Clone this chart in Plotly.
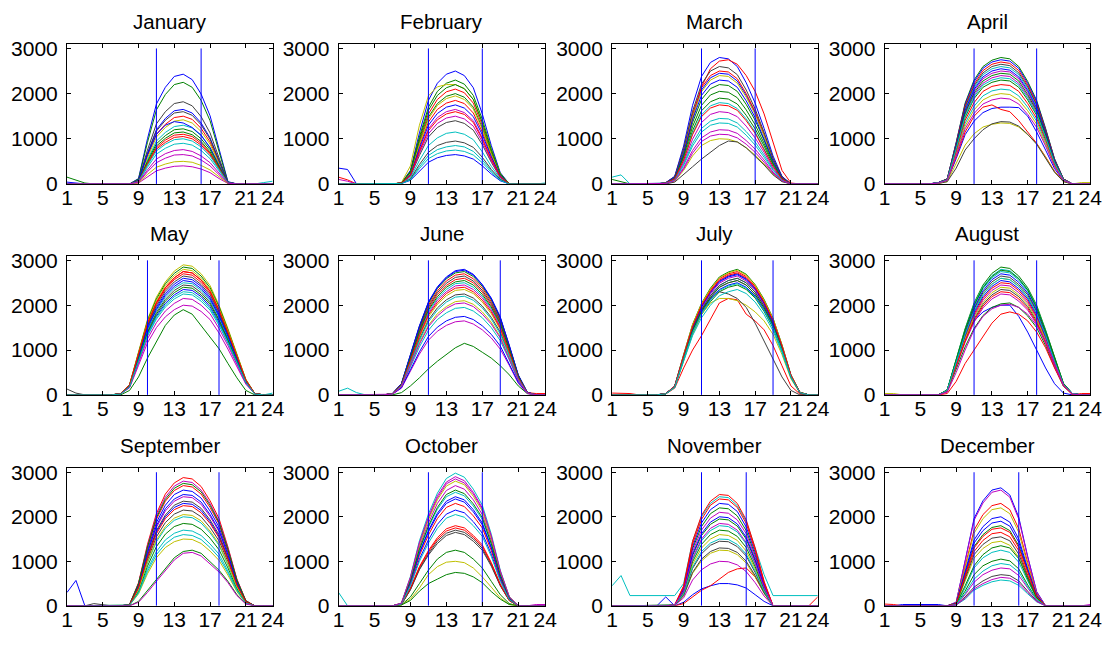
import plotly.graph_objects as go

hours = list(range(1, 25))
month_names = ["January", "February", "March", "April", "May", "June",
               "July", "August", "September", "October", "November", "December"]
x_tick_values = [1, 5, 9, 13, 17, 21, 24]
y_tick_values = [0, 1000, 2000, 3000]
window_start = [11, 11, 11, 11, 10, 11, 11, 11, 11, 11, 11, 11]
window_end = [16, 17, 17, 18, 18, 19, 19, 18, 18, 17, 16, 16]
window_top = 3000

jan = [
    [40,20,0,0,0,0,0,0,120,1000,1770,2140,2380,2430,2310,1990,1510,750,50,0,0,0,0,0],
    [0,0,0,0,0,0,0,0,110,920,1640,1980,2200,2250,2140,1850,1400,700,40,0,0,0,0,0],
    [0,0,0,0,0,0,0,0,75,620,1100,1320,1470,1500,1430,1230,930,470,30,0,0,0,0,0],
    [0,0,0,0,0,0,0,0,65,530,950,1140,1270,1300,1240,1070,810,400,20,0,0,0,30,60],
    [0,0,0,0,0,0,0,0,20,160,290,350,390,400,380,330,250,120,10,0,0,0,0,0],
    [0,0,0,0,0,0,0,0,70,580,1040,1250,1390,1420,1350,1160,880,440,30,0,0,0,0,0],
    [0,0,0,0,0,0,0,0,90,750,1330,1600,1780,1820,1730,1490,1130,560,30,0,0,0,0,0],
    [0,0,0,0,0,0,0,0,80,680,1200,1450,1620,1650,1570,1350,1020,510,30,0,0,0,0,0],
    [150,80,20,0,0,0,0,0,60,470,840,1010,1130,1150,1090,940,710,360,20,0,0,0,0,0],
    [0,0,0,0,0,0,0,0,50,430,770,920,1030,1050,1000,860,650,330,20,0,0,0,0,0],
    [0,0,0,0,0,0,0,0,45,370,660,790,880,900,860,740,560,280,20,0,0,0,0,0],
    [0,0,0,0,0,0,0,0,30,270,470,570,640,650,620,530,400,200,10,0,0,0,0,0],
    [0,0,0,0,0,0,0,0,25,210,370,440,490,500,480,410,310,150,10,0,0,0,0,0],
    [0,0,0,0,0,0,0,0,80,660,1170,1410,1570,1600,1520,1310,990,500,30,0,0,0,0,0],
    [0,0,0,0,0,0,0,0,70,650,1100,1300,1380,1350,1250,1080,800,400,30,0,0,0,0,0],
    [0,0,0,0,0,0,0,0,60,500,890,1070,1200,1220,1160,1000,760,380,20,0,0,0,0,0],
    [0,0,0,0,0,0,0,0,55,450,800,970,1080,1100,1050,900,680,340,20,0,0,0,0,0],
    [0,0,0,0,0,0,0,0,50,410,730,880,980,1000,950,820,620,310,20,0,0,0,0,0],
    [0,0,0,0,0,0,0,0,40,310,550,670,740,760,720,620,470,240,15,0,0,0,0,0],
]

feb = [
    [350,320,0,0,0,0,0,20,300,1130,1850,2230,2430,2500,2400,2130,1550,850,250,0,0,0,0,0],
    [0,0,0,0,0,0,0,20,280,1040,1700,2050,2230,2300,2210,1960,1430,780,230,0,0,0,0,0],
    [150,90,0,0,0,0,0,20,250,950,1550,1870,2040,2100,2020,1790,1300,710,210,0,0,0,0,0],
    [0,0,0,0,0,0,0,10,100,380,630,760,820,850,820,720,530,290,90,0,0,0,0,20],
    [100,60,0,0,0,0,0,20,200,740,1220,1470,1600,1650,1580,1400,1020,560,170,0,0,0,0,0],
    [0,0,0,0,0,0,0,30,400,1300,1950,2150,2200,2200,2110,1870,1360,750,220,0,0,0,0,0],
    [0,0,0,0,0,0,0,20,170,630,1040,1250,1360,1400,1340,1190,870,480,140,0,0,0,0,0],
    [0,0,0,0,0,0,0,10,80,290,480,580,630,650,620,550,400,220,70,0,0,0,0,0],
    [0,0,0,0,0,0,0,20,240,900,1480,1780,1940,2000,1920,1700,1240,680,200,0,0,0,0,0],
    [0,0,0,0,0,0,0,20,220,830,1370,1650,1790,1850,1780,1570,1150,630,190,0,0,0,0,0],
    [0,0,0,0,0,0,0,10,140,520,850,1020,1120,1150,1100,980,710,390,120,0,0,0,0,0],
    [0,0,0,0,0,0,0,20,180,680,1110,1340,1460,1500,1440,1280,930,510,150,0,0,0,0,0],
    [0,0,0,0,0,0,0,20,230,880,1440,1740,1890,1950,1870,1660,1210,660,200,0,0,0,0,0],
    [0,0,0,0,0,0,0,10,110,430,700,850,920,950,910,810,590,320,100,0,0,0,0,0],
    [0,0,0,0,0,0,0,20,210,790,1300,1560,1700,1750,1680,1490,1090,600,180,0,0,0,0,0],
    [0,0,0,0,0,0,0,20,260,990,1630,1960,2130,2200,2110,1870,1360,750,220,0,0,0,0,0],
    [0,0,0,0,0,0,0,20,190,720,1180,1420,1550,1600,1540,1360,990,540,160,0,0,0,0,0],
    [0,0,0,0,0,0,0,10,90,340,560,670,730,750,720,640,470,260,80,0,0,0,0,0],
]

mar = [
    [0,0,0,0,0,0,30,170,840,1740,2380,2690,2800,2770,2600,2240,1790,1230,620,170,0,0,0,0],
    [100,50,0,0,0,0,20,130,660,1360,1870,2110,2200,2180,2050,1760,1410,970,480,130,0,0,0,0],
    [0,0,0,0,0,0,0,100,600,1450,2150,2550,2720,2750,2650,2400,2050,1550,900,300,20,0,0,0],
    [150,200,0,0,0,0,15,90,440,900,1230,1390,1450,1440,1350,1160,930,640,320,90,0,0,0,0],
    [0,0,0,0,0,0,10,70,360,740,1020,1150,1200,1190,1120,960,770,530,260,70,0,0,0,0],
    [0,0,0,0,0,0,10,60,300,620,850,960,1000,990,930,800,640,440,220,60,0,0,0,0],
    [0,0,0,0,0,0,0,40,200,380,550,700,850,950,930,800,620,420,200,50,0,0,0,0],
    [0,0,0,0,0,0,25,150,740,1520,2080,2350,2450,2430,2280,1960,1570,1080,540,150,0,0,0,0],
    [0,0,0,0,0,0,20,110,570,1180,1620,1820,1900,1880,1770,1520,1220,840,420,110,0,0,0,0],
    [0,0,0,0,0,0,25,150,750,1550,2130,2400,2500,2480,2330,2000,1600,1100,550,150,0,0,0,0],
    [0,0,0,0,0,0,20,110,540,1120,1530,1730,1800,1780,1670,1440,1150,790,400,110,0,0,0,0],
    [0,0,0,0,0,0,15,100,480,990,1360,1540,1600,1580,1490,1280,1020,700,350,100,0,0,0,0],
    [0,0,0,0,0,0,25,140,720,1490,2040,2300,2400,2380,2230,1920,1540,1060,530,140,0,0,0,0],
    [0,0,0,0,0,0,25,160,780,1610,2210,2500,2600,2570,2420,2080,1660,1140,570,160,0,0,0,0],
    [0,0,0,0,0,0,25,140,690,1430,1960,2210,2300,2280,2140,1840,1470,1010,510,140,0,0,0,0],
    [0,0,0,0,0,0,20,120,620,1270,1740,1970,2050,2030,1910,1640,1310,900,450,120,0,0,0,0],
    [0,0,0,0,0,0,20,110,530,1090,1490,1680,1750,1730,1630,1400,1120,770,390,110,0,0,0,0],
    [0,0,0,0,0,0,15,80,410,840,1150,1300,1350,1340,1260,1080,860,590,300,80,0,0,0,0],
    [0,0,0,0,0,0,10,70,330,680,940,1060,1100,1090,1020,880,700,480,240,70,0,0,0,0],
]

apr = [
    [0,0,0,0,0,0,20,70,560,1090,1390,1580,1670,1700,1700,1690,1500,1150,750,340,70,0,0,0],
    [0,0,0,0,0,0,30,110,920,1790,2300,2600,2740,2800,2770,2600,2270,1850,1230,560,110,0,0,0],
    [0,0,0,0,0,0,20,80,600,1150,1500,1700,1750,1650,1600,1400,1150,900,600,280,60,0,0,0],
    [0,0,0,0,0,0,30,100,860,1660,2130,2420,2550,2600,2570,2420,2110,1720,1140,520,100,0,0,0],
    [0,0,0,0,0,0,25,100,790,1540,1970,2230,2350,2400,2380,2230,1940,1580,1060,480,100,0,0,0],
    [0,0,0,0,0,0,10,50,450,860,1110,1260,1320,1350,1340,1260,1090,890,590,270,50,0,30,30],
    [0,0,0,0,0,0,10,50,350,750,1000,1200,1330,1380,1370,1280,1100,880,580,260,50,0,0,0],
    [0,0,0,0,0,0,30,110,910,1760,2260,2560,2700,2750,2720,2560,2230,1820,1210,550,110,0,0,0],
    [0,0,0,0,0,0,25,90,760,1470,1890,2140,2250,2300,2280,2140,1860,1520,1010,460,90,0,0,0],
    [0,0,0,0,0,0,30,110,890,1730,2210,2510,2650,2700,2670,2510,2190,1780,1190,540,110,0,0,0],
    [0,0,0,0,0,0,20,80,690,1340,1720,1950,2060,2100,2080,1950,1700,1390,920,420,80,0,0,0],
    [0,0,0,0,0,0,25,100,830,1600,2050,2330,2450,2500,2480,2330,2030,1650,1100,500,100,0,0,0],
    [0,0,0,0,0,0,20,80,660,1280,1640,1860,1960,2000,1980,1860,1620,1320,880,400,80,0,0,0],
    [0,0,0,0,0,0,30,110,870,1700,2170,2460,2600,2650,2620,2460,2150,1750,1170,530,110,0,0,0],
    [0,0,0,0,0,0,30,100,840,1630,2090,2370,2500,2550,2520,2370,2070,1680,1120,510,100,0,0,0],
    [0,0,0,0,0,0,25,100,810,1570,2010,2280,2400,2450,2430,2280,1980,1620,1080,490,100,0,0,0],
    [0,0,0,0,0,0,20,90,730,1410,1800,2050,2160,2200,2180,2050,1780,1450,970,440,90,0,0,0],
    [0,0,0,0,0,0,25,90,780,1500,1930,2190,2300,2350,2330,2190,1900,1550,1030,470,90,0,0,0],
    [0,0,0,0,0,0,20,80,630,1220,1560,1770,1860,1900,1880,1770,1540,1250,840,380,80,0,0,0],
]

may = [
    [0,0,0,0,0,0,30,210,860,1510,1950,2260,2470,2600,2570,2420,2180,1790,1330,810,310,30,0,0],
    [0,0,0,0,0,0,0,100,400,820,1200,1550,1780,1900,1800,1540,1300,1030,700,380,100,0,0,0],
    [0,0,0,0,0,0,30,220,890,1570,2030,2350,2570,2700,2670,2510,2270,1860,1380,840,320,30,0,0],
    [0,0,0,0,0,0,20,180,740,1310,1690,1960,2140,2250,2230,2090,1890,1550,1150,700,270,20,0,40],
    [0,0,0,0,0,0,20,170,710,1250,1610,1870,2040,2150,2130,2000,1810,1480,1100,670,260,20,0,0],
    [0,0,0,0,0,0,30,230,960,1680,2180,2520,2760,2900,2870,2700,2440,2000,1480,900,350,30,0,0],
    [130,40,0,0,0,0,25,200,810,1420,1840,2130,2330,2450,2430,2280,2060,1690,1250,760,290,25,0,0],
    [0,0,0,0,0,0,25,190,780,1360,1760,2040,2230,2350,2330,2190,1970,1620,1200,730,280,25,0,0],
    [0,0,0,0,0,0,30,230,940,1650,2140,2480,2710,2850,2820,2650,2390,1970,1450,880,340,30,0,0],
    [0,0,0,0,0,0,30,220,910,1600,2060,2390,2610,2750,2720,2560,2310,1900,1400,850,330,30,0,0],
    [0,0,0,0,0,0,25,200,830,1450,1880,2180,2380,2500,2480,2330,2100,1730,1280,780,300,25,0,0],
    [0,0,0,0,0,0,20,160,660,1160,1500,1740,1900,2000,1980,1860,1680,1380,1020,620,240,20,0,0],
    [0,0,0,0,0,0,30,220,920,1620,2100,2440,2660,2800,2770,2600,2350,1930,1430,870,340,30,0,0],
    [0,0,0,0,0,0,30,210,870,1540,1990,2310,2520,2650,2620,2460,2230,1830,1350,820,320,30,0,0],
    [0,0,0,0,0,0,25,200,840,1480,1910,2220,2420,2550,2520,2370,2140,1760,1300,790,310,25,0,0],
    [0,0,0,0,0,0,25,190,790,1390,1800,2090,2280,2400,2380,2230,2020,1660,1220,740,290,25,0,0],
    [0,0,0,0,0,0,30,220,910,1600,2060,2390,2610,2750,2720,2560,2310,1900,1400,850,330,30,0,0],
    [0,0,0,0,0,0,20,180,760,1330,1730,2000,2190,2300,2280,2140,1930,1590,1170,710,280,20,0,0],
]

jun = [
    [0,0,0,0,0,0,30,250,900,1540,2070,2410,2630,2770,2800,2690,2460,2160,1740,1120,450,60,0,0],
    [0,0,0,0,0,0,0,50,200,380,580,750,900,1050,1150,1080,950,820,650,450,200,30,0,0],
    [0,0,0,0,0,0,30,240,860,1490,2000,2320,2540,2670,2700,2590,2380,2080,1670,1080,430,50,30,30],
    [80,150,50,0,0,0,20,180,620,1070,1440,1680,1830,1930,1950,1870,1720,1500,1210,780,310,40,0,0],
    [0,0,0,0,0,0,15,150,530,910,1220,1420,1550,1630,1650,1580,1450,1270,1020,660,260,30,0,0],
    [0,0,0,0,0,0,25,210,750,1290,1740,2020,2210,2330,2350,2260,2070,1810,1460,940,380,50,0,0],
    [0,0,0,0,0,0,20,200,720,1240,1670,1940,2120,2230,2250,2160,1980,1730,1400,900,360,40,0,0],
    [0,0,0,0,0,0,20,160,560,960,1300,1510,1650,1730,1750,1680,1540,1350,1090,700,280,40,0,0],
    [0,0,0,0,0,0,30,250,880,1510,2040,2370,2590,2720,2750,2640,2420,2120,1710,1100,440,60,0,0],
    [0,0,0,0,0,0,30,230,830,1430,1920,2240,2440,2570,2600,2500,2290,2000,1610,1040,420,50,0,0],
    [0,0,0,0,0,0,25,230,800,1380,1850,2150,2350,2480,2500,2400,2200,1930,1550,1000,400,50,0,0],
    [0,0,0,0,0,0,25,220,780,1350,1810,2110,2300,2430,2450,2350,2160,1890,1520,980,390,50,0,0],
    [0,0,0,0,0,0,20,190,670,1160,1550,1810,1970,2080,2100,2020,1850,1620,1300,840,340,40,0,0],
    [0,0,0,0,0,0,30,240,850,1460,1960,2280,2490,2620,2650,2540,2330,2040,1640,1060,420,50,0,0],
    [0,0,0,0,0,0,30,250,890,1530,2060,2390,2610,2750,2780,2670,2450,2140,1720,1110,440,60,0,0],
    [0,0,0,0,0,0,25,230,820,1400,1890,2190,2400,2520,2550,2450,2240,1960,1580,1020,410,50,0,0],
    [0,0,0,0,0,0,25,220,770,1320,1780,2060,2260,2380,2400,2300,2110,1850,1490,960,380,50,0,0],
    [0,0,0,0,0,0,20,200,700,1210,1630,1890,2070,2180,2200,2110,1940,1690,1360,880,350,40,0,0],
    [0,0,0,0,0,0,20,180,660,1130,1520,1760,1930,2030,2050,1970,1800,1580,1270,820,330,40,0,0],
]

jul = [
    [0,0,0,0,0,0,30,190,860,1510,1970,2300,2540,2650,2700,2590,2380,2050,1650,1080,430,50,0,0],
    [0,0,0,0,0,0,25,170,780,1370,1790,2080,2300,2400,2450,2350,2160,1860,1490,980,390,50,0,0],
    [40,40,30,0,0,0,20,150,600,1000,1320,1700,2050,2150,2120,1800,1650,1450,1100,650,200,20,0,0],
    [0,0,0,0,0,0,30,180,830,1460,1900,2210,2440,2550,2600,2500,2290,1980,1590,1040,420,50,0,0],
    [0,0,0,0,0,0,25,180,820,1430,1860,2170,2400,2500,2550,2450,2240,1940,1560,1020,410,50,0,0],
    [0,0,0,0,0,0,25,170,760,1350,1800,2050,2150,2150,2100,2000,1850,1650,1350,900,360,40,0,0],
    [0,0,0,0,0,0,20,180,800,1450,1900,2150,2300,2250,2150,1950,1600,1200,800,400,100,0,0,0],
    [0,0,0,0,0,0,25,180,800,1400,1830,2130,2350,2450,2500,2400,2200,1900,1530,1000,400,50,0,0],
    [0,0,0,0,0,0,30,200,900,1570,2040,2380,2630,2740,2800,2690,2460,2130,1710,1120,450,60,0,0],
    [0,0,0,0,0,0,30,190,880,1540,2010,2340,2590,2700,2750,2640,2420,2090,1680,1100,440,60,0,0],
    [0,0,0,0,0,0,25,160,750,1320,1720,2000,2210,2300,2350,2260,2070,1790,1430,940,380,50,0,0],
    [0,0,0,0,0,0,30,190,850,1480,1930,2250,2490,2600,2650,2540,2330,2010,1620,1060,420,50,0,0],
    [0,0,0,0,0,0,30,190,890,1560,2030,2360,2610,2720,2780,2670,2450,2110,1700,1110,440,60,0,0],
    [0,0,0,0,0,0,30,180,830,1460,1900,2210,2440,2550,2600,2500,2290,1980,1590,1040,420,50,0,0],
    [0,0,0,0,0,0,30,190,860,1500,1960,2280,2520,2630,2680,2570,2360,2040,1630,1070,430,50,0,0],
    [0,0,0,0,0,0,25,180,820,1430,1860,2170,2400,2500,2550,2450,2240,1940,1560,1020,410,50,0,0],
    [0,0,0,0,0,0,30,190,870,1520,1990,2310,2560,2670,2720,2610,2390,2070,1660,1090,440,50,0,0],
    [0,0,0,0,0,0,25,170,790,1390,1810,2110,2330,2430,2480,2380,2180,1880,1510,990,400,50,0,0],
]

aug = [
    [0,0,0,0,0,0,0,80,700,1300,1650,1850,1950,2000,2000,1750,1400,1000,600,250,40,0,0,0],
    [0,0,0,0,0,0,0,80,580,1070,1480,1770,1950,2030,2050,1950,1760,1500,1100,620,190,20,0,0],
    [0,0,0,0,0,0,0,30,300,700,1000,1300,1600,1800,1850,1800,1650,1400,1050,600,200,0,30,30],
    [0,0,0,0,0,0,0,110,770,1430,1980,2370,2610,2750,2720,2560,2310,1930,1400,800,250,30,0,0],
    [0,0,0,0,0,0,0,100,690,1270,1760,2110,2330,2450,2430,2280,2060,1720,1250,710,220,20,0,0],
    [30,30,0,0,0,0,0,100,730,1350,1870,2240,2470,2600,2570,2420,2180,1820,1330,750,230,30,0,0],
    [0,0,0,0,0,0,0,90,660,1220,1690,2020,2230,2350,2330,2190,1970,1650,1200,680,210,20,0,0],
    [0,0,0,0,0,0,0,110,760,1400,1940,2320,2570,2700,2670,2510,2270,1890,1380,780,240,30,0,0],
    [0,0,0,0,0,0,0,110,800,1480,2050,2450,2710,2850,2820,2650,2390,2000,1450,830,260,30,0,0],
    [0,0,0,0,0,0,0,100,700,1300,1800,2150,2380,2500,2480,2330,2100,1750,1280,730,230,30,0,0],
    [0,0,0,0,0,0,0,110,780,1460,2020,2410,2660,2800,2770,2600,2350,1960,1430,810,250,30,0,0],
    [0,0,0,0,0,0,0,90,630,1170,1620,1940,2140,2250,2230,2090,1890,1580,1150,650,200,20,0,0],
    [0,0,0,0,0,0,0,100,670,1250,1730,2060,2280,2400,2380,2230,2020,1680,1220,700,220,20,0,0],
    [0,0,0,0,0,0,0,110,740,1380,1910,2280,2520,2650,2620,2460,2230,1860,1350,770,240,30,0,0],
    [0,0,0,0,0,0,0,100,710,1330,1840,2190,2420,2550,2520,2370,2140,1790,1300,740,230,30,0,0],
    [0,0,0,0,0,0,0,110,780,1450,2000,2390,2640,2780,2750,2590,2340,1950,1420,810,250,30,0,0],
    [0,0,0,0,0,0,0,90,640,1200,1660,1980,2190,2300,2280,2140,1930,1610,1170,670,210,20,0,0],
    [0,0,0,0,0,0,0,100,730,1350,1870,2240,2470,2600,2570,2420,2180,1820,1330,750,230,30,0,0],
    [0,0,0,0,0,0,0,60,500,1000,1450,1750,1920,2000,2020,1950,1800,1550,1200,700,220,20,0,0],
]

sep = [
    [300,570,0,0,0,0,0,20,410,1100,1660,2000,2210,2300,2280,2140,1890,1560,1060,480,90,0,0,0],
    [0,0,0,0,0,0,0,0,100,350,600,850,1080,1220,1250,1180,1000,800,550,250,50,0,0,0],
    [0,0,0,0,0,0,0,30,520,1380,2070,2510,2760,2880,2850,2680,2360,1960,1320,600,120,0,0,0],
    [0,0,0,0,0,0,0,15,310,820,1220,1480,1630,1700,1680,1580,1390,1160,780,360,70,0,0,0],
    [0,0,0,0,0,0,0,20,440,1180,1760,2130,2350,2450,2430,2280,2010,1670,1130,510,100,0,0,0],
    [0,0,0,0,0,0,0,15,270,720,1080,1310,1440,1500,1490,1400,1230,1020,690,320,60,0,0,0],
    [0,0,0,50,30,0,0,20,390,1030,1550,1870,2060,2150,2130,2000,1760,1460,990,450,90,0,0,0],
    [0,0,0,0,0,0,0,30,470,1250,1870,2260,2500,2600,2570,2420,2130,1770,1200,550,100,0,0,0],
    [0,0,0,0,0,0,0,20,330,890,1330,1610,1780,1850,1830,1720,1520,1260,850,390,70,0,0,0],
    [0,0,0,0,0,0,0,30,490,1300,1940,2350,2590,2700,2670,2510,2210,1840,1240,570,110,0,0,0],
    [0,0,0,0,0,0,0,20,360,960,1440,1740,1920,2000,1980,1860,1640,1360,920,420,80,0,0,0],
    [0,0,0,0,0,0,0,30,500,1340,2020,2440,2690,2800,2770,2600,2300,1900,1290,590,110,0,0,0],
    [0,0,0,0,0,0,0,20,370,980,1480,1780,1970,2050,2030,1910,1680,1390,940,430,80,0,0,0],
    [0,0,0,0,0,0,0,20,420,1130,1690,2040,2260,2350,2330,2190,1930,1600,1080,490,90,0,0,0],
    [0,0,0,0,0,0,0,25,450,1200,1800,2180,2400,2500,2480,2330,2050,1700,1150,530,100,0,0,0],
    [0,0,0,0,0,0,0,30,500,1320,1980,2390,2640,2750,2720,2560,2260,1870,1270,580,110,0,0,0],
    [0,0,0,0,0,0,0,20,410,1080,1620,1960,2160,2250,2230,2090,1850,1530,1040,470,90,0,0,0],
    [0,0,0,0,0,0,0,15,290,770,1150,1390,1540,1600,1580,1490,1310,1090,740,340,60,0,0,0],
    [0,0,0,0,0,0,0,0,80,300,550,800,1030,1180,1200,1120,950,760,520,230,40,0,0,0],
]

oct_ = [
    [0,0,0,0,0,0,0,50,540,1200,1690,2080,2350,2450,2380,2160,1860,1320,660,170,0,0,0,0],
    [0,0,0,0,0,0,0,20,200,500,800,1050,1200,1250,1200,1050,850,550,250,50,0,0,0,0],
    [0,0,0,0,0,0,0,40,400,880,1240,1530,1730,1800,1750,1580,1370,970,490,130,0,0,0,0],
    [300,0,0,0,0,0,0,60,660,1460,2060,2530,2860,2980,2890,2620,2260,1610,800,210,0,0,0,0],
    [0,0,0,0,0,0,0,60,630,1400,1970,2420,2740,2850,2760,2510,2170,1540,770,200,0,0,30,30],
    [0,0,0,0,0,0,0,20,150,400,700,880,980,1000,970,850,650,420,180,30,0,0,0,0],
    [0,0,0,0,0,0,0,30,360,810,1140,1400,1580,1650,1600,1450,1250,890,450,120,0,0,0,0],
    [0,0,0,0,0,0,0,40,470,1050,1480,1830,2060,2150,2090,1890,1630,1160,580,150,0,0,0,0],
    [0,0,0,0,0,0,0,20,120,330,500,600,700,750,730,650,520,320,150,30,0,0,0,0],
    [0,0,0,0,0,0,0,50,510,1130,1590,1960,2210,2300,2230,2020,1750,1240,620,160,0,0,0,0],
    [0,0,0,0,0,0,0,50,560,1250,1760,2170,2450,2550,2470,2240,1940,1380,690,180,0,0,0,0],
    [0,0,0,0,0,0,0,50,590,1320,1860,2300,2590,2700,2620,2380,2050,1460,730,190,0,0,0,0],
    [0,0,0,0,0,0,0,60,620,1370,1930,2380,2690,2800,2720,2460,2130,1510,760,200,0,0,0,0],
    [0,0,0,0,0,0,0,30,370,830,1170,1450,1630,1700,1650,1500,1290,920,460,120,0,0,0,0],
    [0,0,0,0,0,0,0,50,530,1180,1660,2040,2300,2400,2330,2110,1820,1300,650,170,0,0,0,0],
    [0,0,0,0,0,0,0,50,570,1270,1790,2210,2500,2600,2520,2290,1980,1400,700,180,0,0,0,0],
    [0,0,0,0,0,0,0,40,390,860,1210,1490,1680,1750,1700,1540,1330,950,470,120,0,0,0,0],
    [0,0,0,0,0,0,0,40,450,1000,1410,1740,1970,2050,1990,1800,1560,1110,550,140,0,0,0,0],
    [0,0,0,0,0,0,0,60,640,1420,2000,2470,2780,2900,2810,2550,2200,1570,780,200,0,0,0,0],
]

nov = [
    [0,0,0,0,0,0,200,0,80,250,380,450,500,500,470,400,250,100,0,0,0,0,0,0],
    [0,0,0,0,0,0,0,20,400,1280,1780,2070,2200,2180,2020,1690,1140,480,0,0,0,0,0,0],
    [0,0,0,0,0,0,0,0,50,200,350,450,600,750,830,850,650,300,0,0,0,0,0,200],
    [450,680,230,230,230,230,230,230,500,1450,2000,2300,2450,2430,2250,1900,1300,700,230,230,230,230,230,230],
    [0,0,0,0,0,0,0,10,180,580,810,940,1000,990,920,770,520,220,0,0,0,0,0,0],
    [0,0,0,0,0,0,0,10,230,730,1010,1180,1250,1240,1150,960,650,280,0,0,0,0,0,0],
    [0,0,0,0,0,0,0,15,260,840,1170,1360,1450,1440,1330,1120,750,320,0,0,0,0,0,0],
    [0,0,0,0,0,0,0,20,410,1330,1860,2160,2300,2280,2120,1770,1200,510,0,0,0,0,0,0],
    [0,0,0,0,0,0,0,20,350,1130,1580,1830,1950,1930,1790,1500,1010,430,0,0,0,0,0,0],
    [0,0,0,0,0,0,0,20,450,1450,2030,2350,2500,2480,2300,1930,1300,550,0,0,0,0,0,0],
    [0,0,0,0,0,0,0,20,320,1040,1460,1690,1800,1780,1660,1390,940,400,0,0,0,0,0,0],
    [0,0,0,0,0,0,0,20,380,1220,1700,1970,2100,2080,1930,1620,1090,460,0,0,0,0,0,0],
    [0,0,0,0,0,0,0,15,290,930,1300,1500,1600,1580,1470,1230,830,350,0,0,0,0,0,0],
    [0,0,0,0,0,0,0,10,230,750,1050,1220,1300,1290,1200,1000,680,290,0,0,0,0,0,0],
    [0,0,0,0,0,0,0,20,360,1160,1620,1880,2000,1980,1840,1540,1040,440,0,0,0,0,0,0],
    [0,0,0,0,0,0,0,15,310,990,1380,1600,1700,1680,1560,1310,880,370,0,0,0,0,0,0],
    [0,0,0,0,0,0,0,20,430,1390,1940,2260,2400,2380,2210,1850,1250,530,0,0,0,0,0,0],
    [0,0,0,0,0,0,0,15,270,870,1220,1410,1500,1490,1380,1160,780,330,0,0,0,0,0,0],
    [0,0,0,0,0,0,0,20,330,1070,1500,1740,1850,1830,1700,1420,960,410,0,0,0,0,0,0],
]

dec = [
    [0,0,30,30,30,30,30,0,80,1010,1960,2360,2600,2650,2490,1990,1110,320,0,0,0,0,0,0],
    [0,0,0,0,0,0,0,0,50,680,1330,1600,1760,1800,1690,1350,760,220,0,0,0,0,0,0],
    [40,30,0,0,0,0,0,0,70,870,1700,2050,2250,2300,2160,1730,970,280,0,0,0,0,0,0],
    [0,0,0,0,0,0,0,0,20,150,350,460,540,580,560,460,270,90,0,0,0,0,0,0],
    [0,0,0,0,0,0,0,0,80,990,1920,2310,2550,2600,2440,1950,1090,310,0,0,0,0,0,0],
    [0,0,0,0,0,0,0,0,70,840,1630,1960,2160,2200,2070,1650,920,260,0,0,0,0,0,0],
    [0,0,0,0,0,0,0,0,20,200,420,560,660,700,680,560,330,110,0,0,0,0,0,0],
    [0,0,0,0,0,0,0,0,60,760,1480,1780,1960,2000,1880,1500,840,240,0,0,0,0,0,0],
    [0,0,0,0,0,0,0,0,30,330,700,900,1000,1050,1010,830,470,150,0,0,0,0,0,0],
    [0,0,0,0,0,0,0,0,50,630,1220,1470,1620,1650,1550,1240,690,200,0,0,0,0,0,0],
    [0,0,0,0,0,0,0,0,30,400,850,1080,1200,1250,1200,980,560,170,0,0,0,0,0,0],
    [0,0,0,0,0,0,0,0,20,250,530,700,800,850,830,680,400,130,0,0,0,0,0,30],
    [0,0,0,0,0,0,0,0,40,550,1070,1290,1420,1450,1360,1090,610,170,0,0,0,0,0,0],
    [0,0,0,0,0,0,0,0,50,590,1150,1380,1520,1550,1460,1160,650,190,0,0,0,0,0,0],
    [0,0,0,0,0,0,0,0,60,720,1410,1690,1860,1900,1790,1430,800,230,0,0,0,0,0,0],
    [0,0,0,0,0,0,0,0,40,450,900,1150,1300,1350,1300,1060,600,180,0,0,0,0,0,0],
    [0,0,0,0,0,0,0,0,50,670,1300,1560,1720,1750,1650,1310,740,210,0,0,0,0,0,0],
    [0,0,0,0,0,0,0,0,30,280,600,780,900,950,920,760,430,140,0,0,0,0,0,0],
    [0,0,0,0,0,0,0,0,20,170,380,500,590,640,620,510,300,100,0,0,0,0,0,0],
]

months = [jan, feb, mar, apr, may, jun, jul, aug, sep, oct_, nov, dec]

# ---------------- styling ----------------
line_colors = ["#0000ff", "#008000", "#ff0000", "#00bfbf", "#bf00bf", "#bfbf00", "#404040"]
FONT = "Liberation Sans, Arial, Helvetica, sans-serif"
W, H = 1120, 646
col_px = [(62, 271), (338, 548), (616, 825), (893, 1102)]
row_px = [(38, 182), (256, 399), (474, 616)]

fig = go.Figure()
layout = {}
annotations = []
for m in range(12):
    r, c = divmod(m, 4)
    n = m + 1
    xa = "x" if n == 1 else f"x{n}"
    ya = "y" if n == 1 else f"y{n}"
    xkey = "xaxis" if n == 1 else f"xaxis{n}"
    ykey = "yaxis" if n == 1 else f"yaxis{n}"
    for k, curve in enumerate(months[m]):
        assert len(curve) == 24, (m, k, len(curve))
        fig.add_trace(go.Scatter(x=hours, y=curve, mode="lines",
                                 line=dict(color=line_colors[k % 7], width=1),
                                 xaxis=xa, yaxis=ya, showlegend=False, hoverinfo="skip"))
    for h in (window_start[m], window_end[m]):
        fig.add_trace(go.Scatter(x=[h, h], y=[0, window_top], mode="lines",
                                 line=dict(color="#0000ff", width=1),
                                 xaxis=xa, yaxis=ya, showlegend=False, hoverinfo="skip"))
    x0, x1 = col_px[c]
    y0, y1 = row_px[r]
    common = dict(showline=True, linecolor="black", linewidth=1, mirror="ticks",
                  ticks="inside", ticklen=4, tickcolor="black", showgrid=False,
                  zeroline=False, tickfont=dict(family=FONT, size=21, color="black"))
    layout[xkey] = dict(domain=[x0 / W, x1 / W], range=[1, 24], anchor=ya,
                        tickmode="array", tickvals=x_tick_values,
                        ticklabelstandoff=-5, **common)
    layout[ykey] = dict(domain=[1 - y1 / H, 1 - y0 / H], range=[0, 3100], anchor=xa,
                        tickmode="array", tickvals=y_tick_values,
                        ticklabelstandoff=4, **common)
    annotations.append(dict(text=month_names[m], xref="paper", yref="paper",
                            x=(x0 + x1) / 2 / W, y=1 - y0 / H, xanchor="center",
                            yanchor="middle", yshift=22, showarrow=False,
                            font=dict(family=FONT, size=20.5, color="black")))

fig.update_layout(width=W, height=H, autosize=False,
                  margin=dict(l=0, r=0, t=0, b=0),
                  paper_bgcolor="white", plot_bgcolor="white",
                  annotations=annotations, **layout)

fig.write_html("out.html")
